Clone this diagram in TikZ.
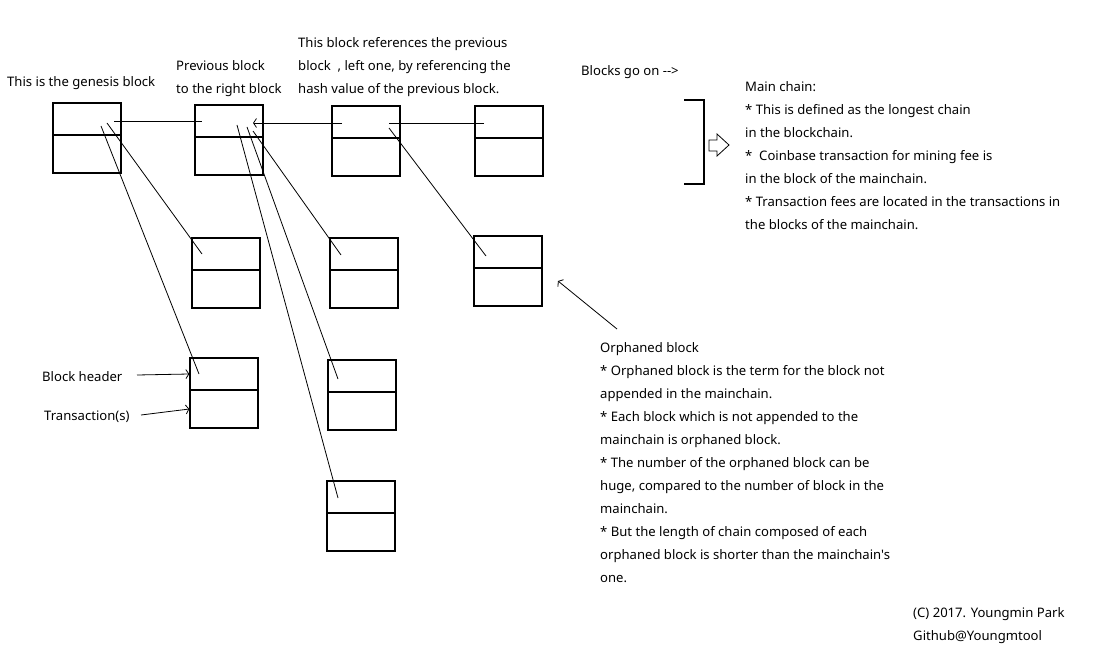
\documentclass[tikz,border=0pt]{standalone}
\usepackage{fontspec}
\newfontfamily\nsf{Noto Sans}
\usetikzlibrary{arrows.meta}
\newcommand{\mkblock}[6]{%
  \node[box, minimum width={#3-#2}, minimum height={#5-#4}] (#1h) at ({(#2+#3)/2},{(#4+#5)/2}) {};
  \node[box, minimum width={#3-#2}, minimum height={#6-#5}] (#1b) at ({(#2+#3)/2},{(#5+#6)/2}) {};}
\begin{document}
\begin{tikzpicture}[x=1pt,y=-1pt,
  box/.style={draw, line width=1.3pt, inner sep=0pt},
  link/.style={line width=0.8pt},
  tipped/.style={link, -{Straight Barb[length=3pt,width=9pt,line width=0.8pt]}},
  txt/.style={anchor=west, inner sep=0pt, font=\nsf\fontsize{13.1}{23}\selectfont},
  para/.style={anchor=north west, inner sep=0pt, align=left, font=\nsf\fontsize{13.1}{23}\selectfont}
]
\useasboundingbox[fill=white] (0,0) rectangle (1105,668);

% blocks: name, x1, x2, ytop, ydiv, ybottom
\mkblock{g}{53}{121}{103}{135}{173}
\mkblock{ba}{195}{263}{105}{137}{175}
\mkblock{bb}{332}{400}{106}{138}{176}
\mkblock{bc}{475}{543}{106}{138}{176}
\mkblock{ra}{192}{260}{238}{270}{308}
\mkblock{rb}{330}{398}{238}{270}{308}
\mkblock{rc}{474}{542}{236}{268}{306}
\mkblock{qa}{190}{258}{358}{390}{428}
\mkblock{qb}{328}{396}{360}{392}{430}
\mkblock{qc}{327}{395}{481}{513}{551}

% connector end points inside the block headers
\coordinate (g1) at (114,121);
\coordinate (ba1) at (202,121);
\coordinate (bb1) at (342,123);
\coordinate (ba2) at (253,123);
\coordinate (bc1) at (484,123);
\coordinate (bb2) at (389,123);
\coordinate (g2) at (101,126);
\coordinate (qa1) at (199,374);
\coordinate (g3) at (107,123);
\coordinate (ra1) at (202,254);
\coordinate (ba3) at (237,125);
\coordinate (qc1) at (338,498);
\coordinate (ba4) at (247,127);
\coordinate (qb1) at (338,379);
\coordinate (ba5) at (253,131);
\coordinate (rb1) at (341,255);
\coordinate (bb3) at (389,128);
\coordinate (rc1) at (486,256);

\draw[link] (g1) -- (ba1);
\draw[tipped] (bb1) -- (ba2);
\draw[link] (bc1) -- (bb2);
\draw[link] (g2) -- (qa1);
\draw[link] (g3) -- (ra1);
\draw[link] (ba3) -- (qc1);
\draw[link] (ba4) -- (qb1);
\draw[link] (ba5) -- (rb1);
\draw[link] (bb3) -- (rc1);

% labels
\node[txt] (genesis) at (7,83.5) {This is the genesis block};
\node[para] (prev) at (176,60.5) {Previous block\\ to the right block};
\node[para] (refs) at (298,37.5) {This block references the previous\\block \ , left one, by referencing the\\ hash value of the previous block.};
\node[txt] (goon) at (581,72.5) {Blocks go on -->};
\node[para] (main) at (745,81.5) {Main chain:\\
* This is defined as the longest chain\\
in the blockchain.\\
* \ Coinbase transaction for mining fee is\\
in the block of the mainchain.\\
* Transaction fees are located in the transactions in\\
the blocks of the mainchain.};
\node[para] (orph) at (600,342.5) {Orphaned block\\
* Orphaned block is the term for the block not\\
appended in the mainchain.\\
* Each block which is not appended to the\\
mainchain is orphaned block.\\
* The number of the orphaned block can be\\
huge, compared to the number of block in the\\
mainchain.\\
* But the length of chain composed of each\\
orphaned block is shorter than the mainchain's\\
one.};
\node[para] (copy) at (913,607.5) {(C) 2017. Youngmin Park\\Github@Youngmtool};
\node[txt] (hdr) at (42,376.5) {Block header};
\node[txt] (trx) at (44,416.5) {Transaction(s)};

% arrows to the legend block
\coordinate (hdrA) at (137,375);
\coordinate (trxA) at (141,415);
\draw[tipped] (hdrA) -- (qah.west);
\draw[tipped] (trxA) -- (qab.west);

% orphaned-block pointer
\coordinate (orA) at (617,329);
\coordinate (orB) at (558,281);
\draw[tipped] (orA) -- (orB);

% main chain bracket and hollow arrow
\draw[line width=1.2pt] (684,100) -- (704,100) -- (704,184) -- (684,184);
\draw[line width=0.8pt] (709,140) -- (717,140) -- (717,134) -- (729,145) -- (717,156) -- (717,151) -- (709,151) -- cycle;
\end{tikzpicture}
\end{document}
